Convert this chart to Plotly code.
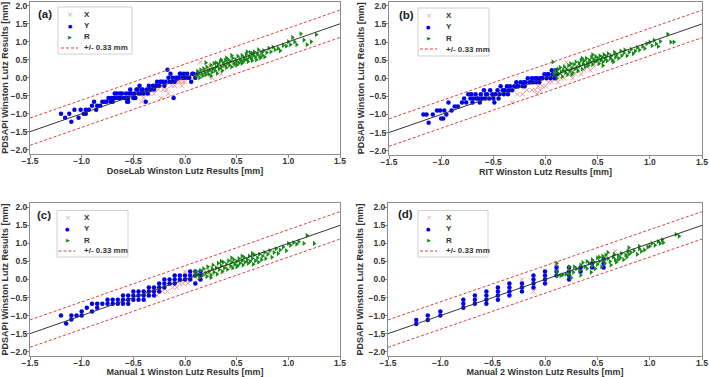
import plotly.graph_objects as go

# ---------------- data ----------------
x_ticks = [-1.5, -1.0, -0.5, 0.0, 0.5, 1.0, 1.5]
y_ticks = [-2.0, -1.5, -1.0, -0.5, 0.0, 0.5, 1.0, 1.5, 2.0]
line_x = [-1.5, 1.5]
band_offset = 0.38
panel_labels = ["(a)", "(b)", "(c)", "(d)"]
x_titles = ["DoseLab Winston Lutz Results [mm]", "RIT Winston Lutz Results [mm]",
            "Manual 1 Winston Lutz Results [mm]", "Manual 2 Winston Lutz Results [mm]"]
y_title = "PDSAPI Winston Lutz Results [mm]"
legend_names = ["X", "Y", "R", "+/- 0.33 mm"]

# Panel (a) DoseLab
a_X_x = [-0.42,-0.40,-0.38,-0.35,-0.33,-0.30,-0.26,-0.23,-0.21,-0.18,-0.16,-0.13,-0.10,-0.07,-0.05,-0.03,-0.02,0.00,0.03,0.06,0.10,0.13,0.15,0.17,0.19,0.21,0.23,0.26,0.28,0.30,0.33,0.36,0.40,0.44,0.48,0.52,0.57,0.62,0.35,0.24]
a_X_y = [-0.67,-0.56,-0.44,-0.44,-0.33,-0.44,-0.33,-0.56,-0.33,-0.33,-0.44,-0.22,-0.22,-0.11,-0.11,-0.22,-0.11,-0.11,0.00,0.00,0.00,0.11,0.44,0.11,0.22,0.11,0.22,0.00,0.22,0.33,0.22,0.33,0.33,0.44,0.33,0.44,0.44,0.56,0.11,0.33]
a_Y_x = [-1.20,-1.16,-1.12,-1.10,-1.07,-1.03,-1.01,-0.98,-0.96,-0.93,-0.90,-0.88,-0.85,-0.82,-0.80,-0.78,-0.76,-0.74,-0.72,-0.71,-0.69,-0.67,-0.66,-0.64,-0.62,-0.61,-0.59,-0.57,-0.56,-0.55,-0.53,-0.52,-0.50,-0.49,-0.47,-0.45,-0.44,-0.42,-0.40,-0.38,-0.37,-0.35,-0.33,-0.31,-0.29,-0.27,-0.25,-0.23,-0.21,-0.19,-0.17,-0.15,-0.14,-0.12,-0.11,-0.10,-0.08,-0.06,-0.04,-0.02,0.00,0.02,0.04,0.06,0.08,0.10,0.12,-0.70,-0.68,-0.63,-0.58,-0.54,-0.48,-0.46,-0.43,-0.41,-0.36,-0.34,-0.30,-0.28,-0.24,-0.20,-0.16,-0.13,-0.09,-0.05,-0.01,0.03,0.07,-0.96,-0.86,-0.55]
a_Y_y = [-1.00,-1.11,-1.00,-1.22,-0.89,-1.11,-0.89,-1.00,-0.89,-0.89,-0.78,-0.67,-0.78,-0.78,-0.67,-0.67,-0.67,-0.56,-0.67,-0.56,-0.56,-0.56,-0.44,-0.56,-0.56,-0.44,-0.56,-0.44,-0.67,-0.56,-0.33,-0.44,-0.56,-0.44,-0.33,-0.44,-0.22,-0.33,-0.44,-0.67,-0.33,-0.22,-0.33,-0.22,-0.22,-0.11,-0.22,-0.11,-0.11,-0.11,0.22,-0.11,0.11,0.00,-0.56,-0.11,0.00,0.00,0.11,0.00,0.00,0.11,0.00,-0.11,0.11,0.00,0.11,-0.67,-0.44,-0.44,-0.56,-0.44,-0.56,-0.33,-0.44,-0.33,-0.44,-0.33,-0.33,-0.22,-0.11,-0.22,0.00,-0.11,0.00,0.11,0.11,0.00,0.11,-1.00,-0.89,-0.67]
a_R_x = [0.11,0.12,0.13,0.14,0.15,0.16,0.17,0.18,0.19,0.20,0.21,0.22,0.23,0.24,0.25,0.26,0.27,0.28,0.29,0.30,0.31,0.32,0.33,0.34,0.35,0.36,0.37,0.38,0.39,0.40,0.41,0.42,0.43,0.44,0.45,0.46,0.47,0.48,0.49,0.50,0.51,0.52,0.53,0.54,0.55,0.56,0.57,0.58,0.59,0.60,0.61,0.62,0.63,0.64,0.65,0.66,0.67,0.68,0.69,0.70,0.71,0.72,0.73,0.74,0.75,0.76,0.77,0.79,0.81,0.83,0.85,0.87,0.90,0.92,0.95,0.98,1.00,1.02,1.04,1.06,1.08,1.12,1.15,1.18,1.22,1.27,0.40,0.45,0.50,0.55,0.60,0.65,0.30,0.35,0.25,0.20]
a_R_y = [0.05,0.18,0.10,0.00,0.22,0.12,0.05,0.25,0.15,0.08,0.30,0.18,0.10,0.22,0.35,0.15,0.25,0.40,0.20,0.30,0.12,0.38,0.25,0.45,0.30,0.20,0.42,0.35,0.48,0.28,0.40,0.50,0.35,0.45,0.30,0.55,0.42,0.38,0.50,0.45,0.60,0.40,0.52,0.48,0.62,0.45,0.55,0.50,0.65,0.52,0.45,0.58,0.70,0.55,0.48,0.62,0.72,0.58,0.50,0.65,0.78,0.60,0.55,0.70,0.62,0.75,0.58,0.70,0.82,0.72,0.85,0.78,0.82,0.75,0.90,0.88,1.00,0.92,1.12,1.00,0.92,1.22,1.05,0.92,1.00,1.20,0.55,0.62,0.35,0.40,0.72,0.68,0.42,0.50,0.05,0.42]

# Panel (b) RIT
b_X_x = [-0.32,-0.27,-0.22,-0.18,-0.13,-0.10,-0.08,-0.05,-0.03,0.00,0.03,0.06,0.09,0.12,0.15,0.18,0.20,0.22,0.25,0.28,0.31,0.34,0.37,0.40,0.43,0.47,0.52,0.30,0.26,-0.07]
b_X_y = [-0.67,-0.44,-0.44,-0.33,-0.33,-0.33,-0.44,-0.33,-0.22,-0.22,-0.11,-0.11,0.00,-0.11,0.00,0.00,0.44,0.11,0.22,0.11,0.22,0.11,0.22,0.33,0.22,0.33,0.44,0.33,0.00,-0.22]
b_Y_x = [-1.17,-1.14,-1.12,-1.08,-1.04,-1.01,-1.00,-0.98,-0.97,-0.95,-0.93,-0.90,-0.87,-0.84,-0.80,-0.78,-0.76,-0.74,-0.72,-0.70,-0.69,-0.67,-0.66,-0.64,-0.62,-0.61,-0.59,-0.58,-0.56,-0.54,-0.53,-0.51,-0.49,-0.48,-0.46,-0.44,-0.43,-0.41,-0.39,-0.37,-0.36,-0.34,-0.32,-0.30,-0.28,-0.26,-0.24,-0.22,-0.21,-0.19,-0.17,-0.15,-0.13,-0.12,-0.10,-0.08,-0.06,-0.05,-0.03,-0.01,0.01,0.03,0.05,0.07,0.09,0.11,-0.71,-0.63,-0.57,-0.50,-0.45,-0.40,-0.35,-0.27,-0.20,-0.14,-0.09,-0.04,0.02,0.06,0.10]
b_Y_y = [-1.00,-1.00,-1.23,-1.00,-0.89,-0.89,-1.11,-1.11,-0.89,-1.00,-0.67,-0.89,-0.78,-0.78,-0.67,-0.56,-0.67,-0.44,-0.56,-0.67,-0.56,-0.44,-0.56,-0.56,-0.44,-0.56,-0.33,-0.56,-0.44,-0.56,-0.33,-0.44,-0.67,-0.44,-0.33,-0.44,-0.22,-0.33,-0.33,-0.22,-0.44,-0.22,-0.33,-0.22,-0.11,-0.22,-0.11,-0.22,-0.11,-0.11,0.00,-0.11,0.00,-0.11,0.00,0.00,-0.11,0.00,0.00,0.11,0.00,0.11,0.00,0.11,0.00,0.11,-0.44,-0.67,-0.44,-0.56,-0.56,-0.44,-0.33,-0.22,-0.22,-0.11,-0.11,0.00,0.11,0.22,0.22]
b_R_x = [0.07,0.08,0.09,0.10,0.11,0.12,0.13,0.14,0.15,0.16,0.17,0.18,0.19,0.20,0.21,0.22,0.23,0.24,0.25,0.26,0.27,0.28,0.29,0.30,0.31,0.32,0.33,0.34,0.35,0.36,0.37,0.38,0.39,0.40,0.41,0.42,0.43,0.44,0.45,0.46,0.47,0.48,0.49,0.50,0.51,0.52,0.53,0.54,0.55,0.56,0.57,0.58,0.59,0.60,0.62,0.63,0.64,0.66,0.67,0.68,0.70,0.72,0.73,0.75,0.76,0.78,0.80,0.82,0.84,0.86,0.88,0.90,0.93,0.95,0.97,1.00,1.02,1.04,1.06,1.08,1.10,1.17,1.20,1.23,0.45,0.55,0.65,0.35,0.25]
b_R_y = [0.45,0.10,0.22,0.15,0.00,0.25,0.12,0.30,0.18,0.05,0.22,0.32,0.15,0.25,0.10,0.35,0.20,0.40,0.28,0.15,0.38,0.25,0.45,0.30,0.20,0.42,0.35,0.50,0.25,0.40,0.48,0.32,0.55,0.42,0.35,0.50,0.45,0.58,0.38,0.52,0.45,0.60,0.48,0.55,0.40,0.62,0.50,0.58,0.45,0.65,0.52,0.60,0.48,0.68,0.55,0.62,0.50,0.72,0.58,0.65,0.55,0.75,0.62,0.70,0.78,0.62,0.72,0.80,0.68,0.75,0.85,0.78,0.88,0.82,0.95,1.00,0.90,1.05,0.95,0.88,1.02,1.22,1.00,1.00,0.65,0.35,0.45,0.55,0.10]

# Panel (c) Manual 1
c_X_x = [-0.33,-0.27,-0.22,-0.17,-0.12,-0.08,-0.05,-0.02,0.00,0.03,0.06,0.09,0.12,0.15,0.18,0.22,0.25,0.28,0.32,0.36,0.40,0.45,0.22]
c_X_y = [-0.33,-0.44,-0.33,-0.33,-0.22,-0.22,-0.11,-0.11,0.22,-0.11,0.00,0.11,0.00,0.22,0.11,0.11,0.22,0.22,0.33,0.22,0.33,0.33,0.33]
c_Y_x = [-1.20,-1.15,-1.10,-1.10,-1.05,-1.00,-1.00,-0.95,-0.90,-0.90,-0.85,-0.85,-0.80,-0.75,-0.75,-0.70,-0.70,-0.65,-0.65,-0.60,-0.60,-0.55,-0.55,-0.55,-0.50,-0.50,-0.50,-0.45,-0.45,-0.45,-0.40,-0.40,-0.40,-0.35,-0.35,-0.35,-0.30,-0.30,-0.25,-0.25,-0.20,-0.20,-0.20,-0.15,-0.15,-0.10,-0.10,-0.10,-0.05,-0.05,0.00,0.00,0.05,0.05,0.05,0.10,0.10,0.10,0.15,0.15,0.15,-0.60,-0.30,-0.25]
c_Y_y = [-1.00,-1.22,-1.11,-1.00,-1.00,-1.00,-0.89,-0.78,-0.67,-0.89,-0.78,-0.67,-0.67,-0.56,-0.67,-0.56,-0.67,-0.56,-0.67,-0.56,-0.44,-0.44,-0.56,-0.67,-0.33,-0.44,-0.56,-0.44,-0.33,-0.56,-0.33,-0.44,-0.56,-0.22,-0.44,-0.33,-0.22,-0.33,-0.22,-0.11,-0.22,-0.11,0.00,-0.11,0.00,0.00,0.11,-0.11,0.00,0.11,0.00,0.11,0.22,0.11,0.00,-0.11,0.11,0.22,0.22,0.00,0.11,-0.67,-0.44,-0.33]
c_R_x = [0.10,0.10,0.12,0.14,0.15,0.17,0.18,0.20,0.21,0.22,0.23,0.25,0.26,0.27,0.28,0.30,0.31,0.32,0.33,0.35,0.36,0.37,0.38,0.40,0.41,0.42,0.44,0.45,0.46,0.47,0.48,0.50,0.51,0.52,0.53,0.55,0.56,0.57,0.58,0.60,0.61,0.62,0.63,0.65,0.66,0.67,0.68,0.70,0.71,0.72,0.74,0.75,0.77,0.78,0.80,0.82,0.84,0.86,0.88,0.90,0.92,0.95,0.98,1.00,1.02,1.05,1.08,1.10,1.15,1.18,1.25,0.35,0.45,0.55,0.65,0.25,0.50]
c_R_y = [0.10,0.22,0.15,0.05,0.25,0.12,0.30,0.18,0.08,0.35,0.22,0.12,0.30,0.40,0.20,0.32,0.15,0.45,0.28,0.38,0.22,0.48,0.32,0.42,0.28,0.52,0.38,0.48,0.32,0.55,0.42,0.50,0.38,0.58,0.45,0.52,0.40,0.62,0.48,0.55,0.45,0.65,0.50,0.58,0.42,0.68,0.52,0.60,0.48,0.70,0.55,0.65,0.75,0.58,0.70,0.80,0.62,0.75,0.85,0.72,0.82,0.90,0.80,1.00,0.95,1.02,0.98,1.05,1.00,1.22,1.00,0.50,0.60,0.65,0.72,0.05,0.35]

# Panel (d) Manual 2
d_X_x = [-0.22,-0.11,0.11,0.11,0.34,0.56,0.67]
d_X_y = [0.00,-0.33,0.45,0.33,0.22,0.56,0.78]
d_Y_x = [-1.23,-1.23,-1.12,-1.12,-1.00,-1.00,-0.78,-0.78,-0.78,-0.67,-0.67,-0.67,-0.56,-0.56,-0.56,-0.56,-0.45,-0.45,-0.45,-0.45,-0.34,-0.34,-0.34,-0.34,-0.22,-0.22,-0.22,-0.11,-0.11,-0.11,-0.11,0.00,0.00,0.00,0.00,0.11,0.11,0.11,0.23,0.23,0.23,0.23,0.34,0.34,0.45,0.45,0.56,0.56,0.56]
d_Y_y = [-1.12,-1.23,-1.00,-1.12,-0.89,-1.00,-0.56,-0.67,-0.78,-0.44,-0.56,-0.67,-0.33,-0.44,-0.56,-0.67,-0.22,-0.33,-0.44,-0.56,-0.11,-0.22,-0.33,-0.44,-0.11,-0.22,-0.33,0.11,0.00,-0.11,-0.22,0.22,0.11,0.00,-0.11,0.33,0.22,0.11,0.33,0.22,0.11,0.00,0.22,0.33,0.33,0.44,0.33,0.44,0.56]
d_R_x = [0.11,0.11,0.12,0.15,0.17,0.20,0.23,0.23,0.23,0.25,0.27,0.30,0.33,0.34,0.34,0.36,0.38,0.40,0.42,0.44,0.45,0.45,0.47,0.48,0.50,0.50,0.52,0.54,0.55,0.56,0.57,0.58,0.60,0.62,0.63,0.65,0.66,0.67,0.68,0.70,0.72,0.73,0.75,0.77,0.78,0.79,0.80,0.80,0.82,0.85,0.88,0.90,0.92,0.95,0.98,1.00,1.02,1.05,1.08,1.10,1.12,1.13,1.25,1.28,0.60,0.52,0.40,0.28,0.70,0.90]
d_R_y = [0.45,0.22,0.11,0.11,0.13,0.15,0.35,0.25,0.15,0.05,0.20,0.30,0.25,0.40,0.12,0.47,0.35,0.30,0.45,0.20,0.55,0.38,0.48,0.30,0.60,0.42,0.50,0.35,0.65,0.55,0.45,0.68,0.58,0.50,0.40,0.62,0.70,0.55,0.48,0.65,0.60,0.72,0.55,0.68,0.62,0.78,0.70,0.88,0.75,0.80,0.70,0.85,0.78,0.82,0.90,0.92,1.00,0.95,1.05,1.00,1.10,1.02,1.25,1.20,0.75,0.62,0.50,0.35,0.55,0.92]

panel_data = [
    (a_X_x, a_X_y, a_Y_x, a_Y_y, a_R_x, a_R_y),
    (b_X_x, b_X_y, b_Y_x, b_Y_y, b_R_x, b_R_y),
    (c_X_x, c_X_y, c_Y_x, c_Y_y, c_R_x, c_R_y),
    (d_X_x, d_X_y, d_Y_x, d_Y_y, d_R_x, d_R_y),
]

# ---------------- layout geometry (pixels) ----------------
W, H = 709, 377
boxes = [(30, 340, 1.5, 154), (389, 702, 1.5, 155), (30, 340, 203, 356), (388, 702, 203, 356)]
legends = [
    ((58, 132, 7, 54), 70, 82, [14.5, 25.5, 36.8, 48]),
    ((418, 489, 8, 56), 429, 444, [15.5, 26.7, 38, 49]),
    ((57, 128, 210.5, 257), 67.5, 81.5, [217.5, 228.8, 240.3, 251]),
    ((418, 488, 210.5, 257), 429, 444, [217.5, 228.8, 240.3, 251]),
]
label_pos = [(36, 14), (396.5, 15), (35, 214.5), (395.5, 214)]

def fx(px):
    return px / W

def fy(py):
    return 1 - py / H

FONT = "Liberation Sans, Arial, sans-serif"
COL_X = "rgba(240,120,120,0.75)"
COL_Y = "#0000ee"
COL_R = "#138a13"
COL_BAND = "#dd4040"
AX_COL = "#8c8c8c"
TXT = "#333333"

fig = go.Figure()
layout = dict(width=W, height=H, margin=dict(l=0, r=0, t=0, b=0),
              paper_bgcolor="white", plot_bgcolor="white", showlegend=False,
              font=dict(family=FONT, color=TXT))
shapes = []
annotations = []

for i, (Xx, Xy, Yx, Yy, Rx, Ry) in enumerate(panel_data):
    n = "" if i == 0 else str(i + 1)
    xa, ya = "x" + n, "y" + n
    l, r, t, b = boxes[i]
    common = dict(showline=True, mirror=True, linecolor=AX_COL, linewidth=1,
                  ticks="outside", ticklen=3, tickcolor=AX_COL, tickwidth=1,
                  tickfont=dict(family=FONT, size=8.5, color=TXT, weight="bold"),
                  showgrid=False, zeroline=False, automargin=False, tickformat=".1f")
    layout["xaxis" + n] = dict(common, domain=[fx(l), fx(r)], range=[-1.5, 1.5],
                               tickvals=x_ticks, anchor=ya, ticklabelstandoff=-4,
                               title=dict(text=x_titles[i], standoff=0,
                                          font=dict(family=FONT, size=9, color=TXT, weight="bold")))
    layout["yaxis" + n] = dict(common, domain=[fy(b), fy(t)], range=[-2.12, 2.12],
                               tickvals=y_ticks, anchor=xa, ticklabelstandoff=-3,
                               title=dict(text=y_title, standoff=3,
                                          font=dict(family=FONT, size=9, color=TXT, weight="bold")))

    fig.add_trace(go.Scatter(x=Xx, y=Xy, mode="markers", xaxis=xa, yaxis=ya, name="X",
                             marker=dict(symbol="x-thin", size=4.5, line=dict(width=1, color=COL_X), color=COL_X)))
    fig.add_trace(go.Scatter(x=Yx, y=Yy, mode="markers", xaxis=xa, yaxis=ya, name="Y",
                             marker=dict(symbol="circle", size=4.5, color=COL_Y)))
    fig.add_trace(go.Scatter(x=Rx, y=Ry, mode="markers", xaxis=xa, yaxis=ya, name="R",
                             marker=dict(symbol="triangle-right", size=4.6, color=COL_R)))
    fig.add_trace(go.Scatter(x=line_x, y=[v + band_offset for v in line_x], mode="lines",
                             xaxis=xa, yaxis=ya, line=dict(color=COL_BAND, width=1, dash="3px,2px")))
    fig.add_trace(go.Scatter(x=line_x, y=[v - band_offset for v in line_x], mode="lines",
                             xaxis=xa, yaxis=ya, line=dict(color=COL_BAND, width=1, dash="3px,2px")))
    fig.add_trace(go.Scatter(x=line_x, y=line_x, mode="lines", xaxis=xa, yaxis=ya,
                             line=dict(color="#333333", width=1)))

    # manual legend
    (ll, lr, lt, lb), mx, tx, rows = legends[i]
    shapes.append(dict(type="rect", xref="paper", yref="paper", x0=fx(ll), x1=fx(lr),
                       y0=fy(lb), y1=fy(lt), line=dict(color="#d0d0d0", width=1),
                       fillcolor="rgba(255,255,255,0.85)", layer="above"))
    glyphs = [("×", COL_X, 7.5), ("●", COL_Y, 5), ("▶", COL_R, 5)]
    for k, (g, c, s) in enumerate(glyphs):
        annotations.append(dict(xref="paper", yref="paper", x=fx(mx), y=fy(rows[k]), text=g,
                                showarrow=False, xanchor="center", yanchor="middle",
                                font=dict(family="DejaVu Sans", size=s, color=c)))
    shapes.append(dict(type="line", xref="paper", yref="paper", x0=fx(mx - 9), x1=fx(mx + 8),
                       y0=fy(rows[3]), y1=fy(rows[3]), line=dict(color=COL_BAND, width=1, dash="3px,2px"),
                       layer="above"))
    for k, name in enumerate(legend_names):
        annotations.append(dict(xref="paper", yref="paper", x=fx(tx), y=fy(rows[k]), text=name,
                                showarrow=False, xanchor="left", yanchor="middle",
                                font=dict(family=FONT, size=8, color=TXT, weight="bold")))
    lx, ly = label_pos[i]
    annotations.append(dict(xref="paper", yref="paper", x=fx(lx), y=fy(ly), text=panel_labels[i],
                            showarrow=False, xanchor="left", yanchor="middle",
                            font=dict(family=FONT, size=11.5, color="#222222", weight="bold")))

layout["shapes"] = shapes
layout["annotations"] = annotations
fig.update_layout(**layout)
fig.write_html("out.html", config={"displayModeBar": False},
               post_script="document.body.style.margin='0px';document.body.style.overflow='hidden';")
